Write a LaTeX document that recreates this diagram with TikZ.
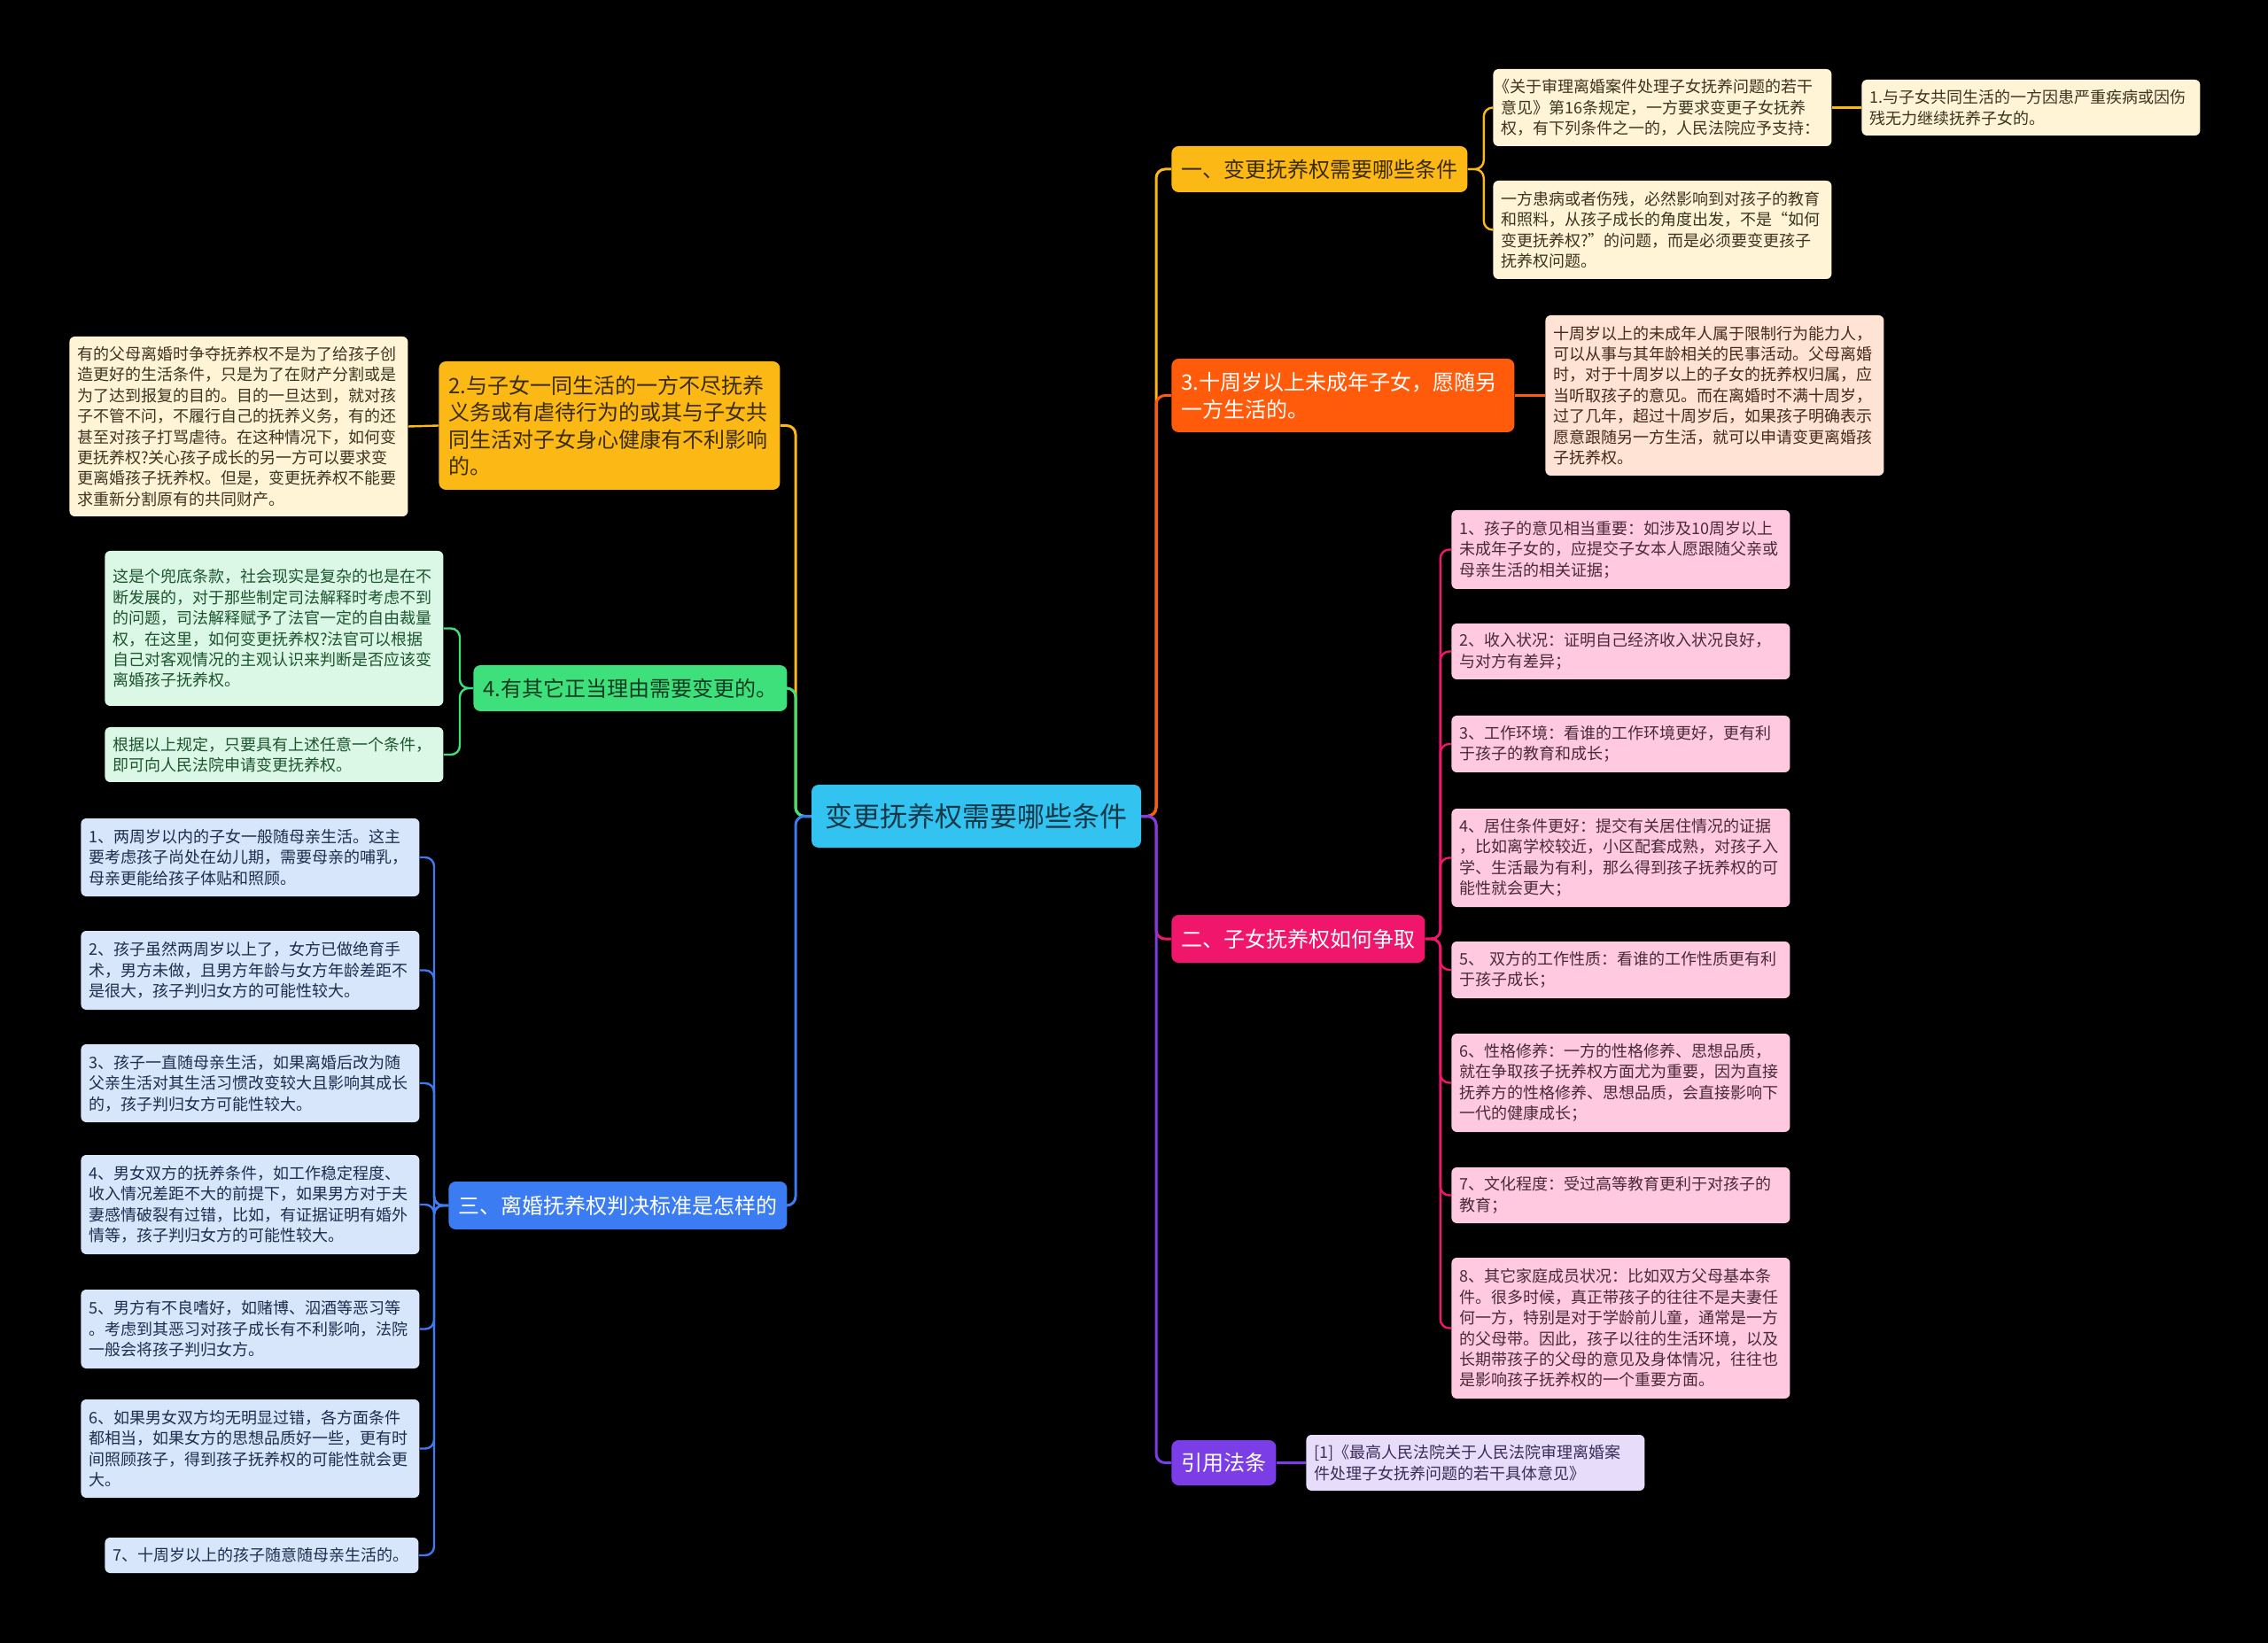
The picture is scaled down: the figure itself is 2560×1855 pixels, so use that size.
\documentclass[tikz,border=0pt]{standalone}
\usepackage{fontspec}
\setmainfont{Noto Sans CJK SC}
\definecolor{ccen}{HTML}{33C3F0}
\definecolor{ccentxt}{HTML}{173848}
\definecolor{cyel}{HTML}{FCB815}
\definecolor{cyeltxt}{HTML}{3A2C05}
\definecolor{cyelleaf}{HTML}{FFF4D6}
\definecolor{cyelleaftxt}{HTML}{3D3522}
\definecolor{cora}{HTML}{FF5B0B}
\definecolor{coraleaf}{HTML}{FFE3D4}
\definecolor{coraleaftxt}{HTML}{45291C}
\definecolor{cmag}{HTML}{EF166C}
\definecolor{cmagleaf}{HTML}{FFC9E0}
\definecolor{cmagleaftxt}{HTML}{4A2A38}
\definecolor{cpur}{HTML}{7B3DE6}
\definecolor{cpurleaf}{HTML}{E7DDFA}
\definecolor{cpurleaftxt}{HTML}{3A2C58}
\definecolor{cgre}{HTML}{3EE07C}
\definecolor{cgretxt}{HTML}{143C22}
\definecolor{cgreleaf}{HTML}{DAF8E5}
\definecolor{cgreleaftxt}{HTML}{1E5530}
\definecolor{cblu}{HTML}{3B7CF2}
\definecolor{cbluleaf}{HTML}{D7E6FB}
\definecolor{cbluleaftxt}{HTML}{1E2D4E}
\pgfdeclarelayer{bgfill}
\pgfdeclarelayer{lines}
\pgfsetlayers{bgfill,lines,main}
\tikzset{
  leaf/.style={rounded corners=3pt, anchor=west, inner xsep=4.5pt, inner ysep=3pt,
    text width=182pt, align=left, font=\fontsize{9}{11.7}\selectfont},
  brn/.style={rounded corners=4pt, anchor=west, inner xsep=5.5pt, inner ysep=3pt,
    font=\fontsize{12}{15.3}\selectfont},
  conn/.style={line width=1.5pt, rounded corners=5pt},
  lconn/.style={line width=1.2pt, rounded corners=5pt},
  yleaf/.style={leaf, fill=cyelleaf, text=cyelleaftxt},
  oleaf/.style={leaf, fill=coraleaf, text=coraleaftxt},
  pleaf/.style={leaf, fill=cmagleaf, text=cmagleaftxt},
  vleaf/.style={leaf, fill=cpurleaf, text=cpurleaftxt},
  gleaf/.style={leaf, fill=cgreleaf, text=cgreleaftxt},
  bleaf/.style={leaf, fill=cbluleaf, text=cbluleaftxt},
}
\begin{document}
\begin{tikzpicture}[x=0.5pt, y=-0.5pt]
\begin{pgfonlayer}{bgfill}
\fill[black] (0,0) rectangle (2560,1855);
\end{pgfonlayer}
\useasboundingbox (0,0) rectangle (2560,1855);

% centre
\node[rounded corners=4pt, fill=ccen, text=ccentxt, inner xsep=4pt, minimum width=186pt, minimum height=35.5pt,
  font=\fontsize{15.5}{19}\selectfont] (c) at (1102,921.5) {变更抚养权需要哪些条件};
\coordinate (rj) at (1305,921.5);
\coordinate (lj) at (898,921.5);

% ---------- right side ----------
\node[brn, fill=cyel, text=cyeltxt, minimum width=163.5pt, minimum height=26pt] (b1) at (1322,191) {一、变更抚养权需要哪些条件};
\node[yleaf, minimum height=43.5pt] (l1a) at (1685,121.5) {\kern-0.45em《关于审理离婚案件处理子女抚养问题的若干\\意见》第16条规定，一方要求变更子女抚养\\权，有下列条件之一的，人民法院应予支持：};
\node[yleaf, minimum height=31.5pt] (l1a1) at (2101,121.5) {1.与子女共同生活的一方因患严重疾病或因伤\\残无力继续抚养子女的。};
\node[yleaf, minimum height=55.5pt] (l1b) at (1685,259.5) {一方患病或者伤残，必然影响到对孩子的教育\\和照料，从孩子成长的角度出发，不是“如何\\变更抚养权?”的问题，而是必须要变更孩子\\抚养权问题。};

\node[brn, fill=cora, text=white, text width=182.5pt, align=left, minimum height=41.5pt] (b2) at (1322,446.5) {3.十周岁以上未成年子女，愿随另\\一方生活的。};
\node[oleaf, minimum height=90.5pt] (l2) at (1744,446.5) {十周岁以上的未成年人属于限制行为能力人，\\可以从事与其年龄相关的民事活动。父母离婚\\时，对于十周岁以上的子女的抚养权归属，应\\当听取孩子的意见。而在离婚时不满十周岁，\\过了几年，超过十周岁后，如果孩子明确表示\\愿意跟随另一方生活，就可以申请变更离婚孩\\子抚养权。};

\node[brn, fill=cmag, text=white, minimum width=140.5pt, minimum height=27pt] (b3) at (1322,1060) {二、子女抚养权如何争取};
\node[pleaf, minimum height=44.5pt] (p1) at (1638,620.5) {1、孩子的意见相当重要：如涉及10周岁以上\\未成年子女的，应提交子女本人愿跟随父亲或\\母亲生活的相关证据；};
\node[pleaf, minimum height=31.5pt] (p2) at (1638,735.5) {2、收入状况：证明自己经济收入状况良好，\\与对方有差异；};
\node[pleaf, minimum height=32pt] (p3) at (1638,840) {3、工作环境：看谁的工作环境更好，更有利\\于孩子的教育和成长；};
\node[pleaf, minimum height=55.5pt] (p4) at (1638,968.5) {4、居住条件更好：提交有关居住情况的证据\\，比如离学校较近，小区配套成熟，对孩子入\\学、生活最为有利，那么得到孩子抚养权的可\\能性就会更大；};
\node[pleaf, minimum height=32pt] (p5) at (1638,1095) {5、 双方的工作性质：看谁的工作性质更有利\\于孩子成长；};
\node[pleaf, minimum height=55.5pt] (p6) at (1638,1222.5) {6、性格修养：一方的性格修养、思想品质，\\就在争取孩子抚养权方面尤为重要，因为直接\\抚养方的性格修养、思想品质，会直接影响下\\一代的健康成长；};
\node[pleaf, minimum height=31.5pt] (p7) at (1638,1349.5) {7、文化程度：受过高等教育更利于对孩子的\\教育；};
\node[pleaf, minimum height=79.5pt] (p8) at (1638,1499.5) {8、其它家庭成员状况：比如双方父母基本条\\件。很多时候，真正带孩子的往往不是夫妻任\\何一方，特别是对于学龄前儿童，通常是一方\\的父母带。因此，孩子以往的生活环境，以及\\长期带孩子的父母的意见及身体情况，往往也\\是影响孩子抚养权的一个重要方面。};

\node[brn, fill=cpur, text=white, minimum width=58pt, minimum height=25.5pt] (b4) at (1322,1651.5) {引用法条};
\node[vleaf, minimum height=31.5pt] (l4) at (1474,1651.5) {[1]《最高人民法院关于人民法院审理离婚案\\件处理子女抚养问题的若干具体意见》};

% ---------- left side ----------
\node[brn, fill=cyel, text=cyeltxt, text width=181.5pt, align=left, minimum height=72.5pt] (b5) at (495,480.5) {2.与子女一同生活的一方不尽抚养\\义务或有虐待行为的或其与子女共\\同生活对子女身心健康有不利影响\\的。};
\node[yleaf, minimum height=101.5pt] (l5) at (78,481.5) {有的父母离婚时争夺抚养权不是为了给孩子创\\造更好的生活条件，只是为了在财产分割或是\\为了达到报复的目的。目的一旦达到，就对孩\\子不管不问，不履行自己的抚养义务，有的还\\甚至对孩子打骂虐待。在这种情况下，如何变\\更抚养权?关心孩子成长的另一方可以要求变\\更离婚孩子抚养权。但是，变更抚养权不能要\\求重新分割原有的共同财产。};

\node[brn, fill=cgre, text=cgretxt, minimum width=173pt, minimum height=26pt] (b6) at (534,777) {4.有其它正当理由需要变更的。};
\node[gleaf, minimum height=87.5pt] (g1) at (118,709.5) {这是个兜底条款，社会现实是复杂的也是在不\\断发展的，对于那些制定司法解释时考虑不到\\的问题，司法解释赋予了法官一定的自由裁量\\权，在这里，如何变更抚养权?法官可以根据\\自己对客观情况的主观认识来判断是否应该变\\离婚孩子抚养权。};
\node[gleaf, minimum height=31pt] (g2) at (118,852) {根据以上规定，只要具有上述任意一个条件，\\即可向人民法院申请变更抚养权。};

\node[brn, fill=cblu, text=white, minimum width=187pt, minimum height=27pt] (b7) at (506,1361) {三、离婚抚养权判决标准是怎样的};
\node[bleaf, minimum height=44pt] (q1) at (91,968) {1、两周岁以内的子女一般随母亲生活。这主\\要考虑孩子尚处在幼儿期，需要母亲的哺乳，\\母亲更能给孩子体贴和照顾。};
\node[bleaf, minimum height=44.5pt] (q2) at (91,1095.5) {2、孩子虽然两周岁以上了，女方已做绝育手\\术，男方未做，且男方年龄与女方年龄差距不\\是很大，孩子判归女方的可能性较大。};
\node[bleaf, minimum height=44pt] (q3) at (91,1223) {3、孩子一直随母亲生活，如果离婚后改为随\\父亲生活对其生活习惯改变较大且影响其成长\\的，孩子判归女方可能性较大。};
\node[bleaf, minimum height=56pt] (q4) at (91,1360) {4、男女双方的抚养条件，如工作稳定程度、\\收入情况差距不大的前提下，如果男方对于夫\\妻感情破裂有过错，比如，有证据证明有婚外\\情等，孩子判归女方的可能性较大。};
\node[bleaf, minimum height=44.5pt] (q5) at (91,1500.5) {5、男方有不良嗜好，如赌博、泅酒等恶习等\\。考虑到其恶习对孩子成长有不利影响，法院\\一般会将孩子判归女方。};
\node[bleaf, minimum height=55.5pt] (q6) at (91,1635.5) {6、如果男女双方均无明显过错，各方面条件\\都相当，如果女方的思想品质好一些，更有时\\间照顾孩子，得到孩子抚养权的可能性就会更\\大。};
\node[bleaf, text width=168pt, minimum height=20pt] (q7) at (118,1756) {7、十周岁以上的孩子随意随母亲生活的。};

% ---------- connectors ----------
\begin{pgfonlayer}{lines}
\draw[conn, cyel] (c.east) -- (rj) |- (b1.west);
\draw[conn, cora] (c.east) -- (rj) |- (b2.west);
\draw[conn, cmag] (c.east) -- (rj) |- (b3.west);
\draw[conn, cpur] (c.east) -- (rj) |- (b4.west);
\draw[conn, cyel] (c.west) -- (lj) |- (b5.east);
\draw[conn, cgre] (c.west) -- (lj) |- (b6.east);
\draw[conn, cblu] (c.west) -- (lj) |- (b7.east);

\draw[lconn, cyel] (b1.east) -- ++(18,0) |- (l1a.west);
\draw[lconn, cyel] (b1.east) -- ++(18,0) |- (l1b.west);
\draw[lconn, cyel] (l1a.east) -- (l1a1.west);
\draw[lconn, cora] (b2.east) -- (l2.west);
\foreach \n in {p1,p2,p3,p4,p5,p6,p7,p8}
  \draw[lconn, cmag] (b3.east) -- ++(17,0) |- (\n.west);
\draw[lconn, cpur] (b4.east) -- (l4.west);
\draw[lconn, cyel] (b5.west) -- (l5.east);
\draw[lconn, cgre] (b6.west) -- ++(-15,0) |- (g1.east);
\draw[lconn, cgre] (b6.west) -- ++(-15,0) |- (g2.east);
\foreach \n in {q1,q2,q3,q4,q5,q6,q7}
  \draw[lconn, cblu] (b7.west) -- ++(-16,0) |- (\n.east);
\end{pgfonlayer}
\end{tikzpicture}
\end{document}
